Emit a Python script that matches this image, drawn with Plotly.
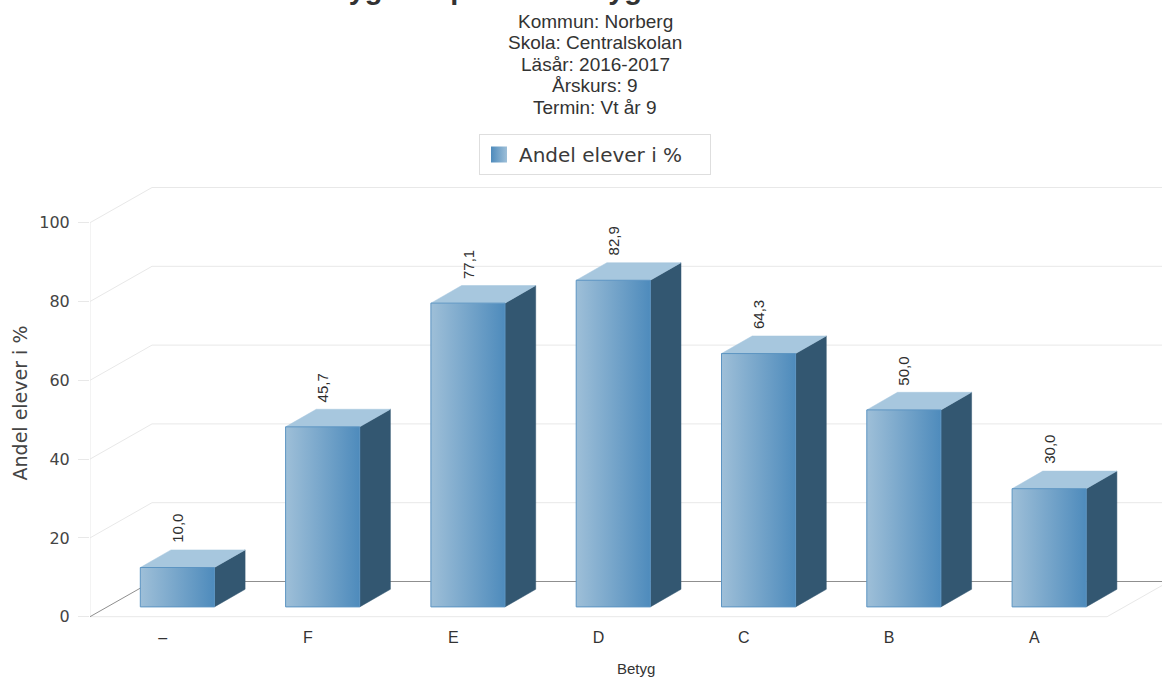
import plotly.graph_objects as go

# ---------------- data ----------------
categories = ["–", "F", "E", "D", "C", "B", "A"]
values = [10.0, 45.7, 77.1, 82.9, 64.3, 50.0, 30.0]
value_labels = ["10,0", "45,7", "77,1", "82,9", "64,3", "50,0", "30,0"]
y_ticks = [0, 20, 40, 60, 80, 100]
y_ticktext = ["0", "20", "40", "60", "80", "100"]
series_name = "Andel elever i %"
title_text = "Betyg och procent betyg i årskurs 9"
subtitle_lines = ["Kommun: Norberg", "Skola: Centralskolan", "Läsår: 2016-2017",
                  "Årskurs: 9", "Termin: Vt år 9"]
x_title = "Betyg"
y_title = "Andel elever i %"

# ---------------- layout geometry ----------------
W, H = 1162, 677
M_L, M_R, M_T, M_B = 90, 0, 180, 51
PLOT_W = W - M_L - M_R
PLOT_H = H - M_T - M_B
PX_PER_CAT = 145.3
PX_PER_VAL = 3.94
ZERO_PX = 616.7

x_range = [0, PLOT_W / PX_PER_CAT]
y_range = [-((H - M_B) - ZERO_PX) / PX_PER_VAL, (ZERO_PX - M_T) / PX_PER_VAL]

# oblique "3D" offsets in data units
WALL_DX, WALL_DY = 62 / PX_PER_CAT, 35.2 / PX_PER_VAL
BAR_FX, BAR_FY = 14.7 / PX_PER_CAT, 9.8 / PX_PER_VAL
BAR_DX, BAR_DY = 30.7 / PX_PER_CAT, 17.6 / PX_PER_VAL
BAR_W = 0.51
N = len(categories)


def pxx(px):
    return (px - M_L) / PLOT_W


def pxy(py):
    return (H - M_B - py) / PLOT_H


FRONT_LIGHT = "rgb(158,191,216)"
FRONT_DARK = "rgb(78,139,188)"
FRONT_EDGE = "rgb(92,148,194)"
TOP_COL = "rgb(167,199,222)"
SIDE_COL = "rgb(51,87,113)"
GRID_COL = "#e8e8e8"
DARK_LINE = "#8f8f8f"

fig = go.Figure()

# ---------- walls / gridlines ----------
gx, gy = [], []
for v in y_ticks[1:]:
    gx += [0, WALL_DX, N + WALL_DX, None]
    gy += [v, v + WALL_DY, v + WALL_DY, None]
# front floor edge, right floor edge, front vertical axis line
gx += [0, N, N + WALL_DX, None, 0, 0, None]
gy += [0, 0, WALL_DY, None, 0, y_ticks[-1], None]
fig.add_trace(go.Scatter(x=gx, y=gy, mode="lines", line=dict(color=GRID_COL, width=1),
                         hoverinfo="skip", showlegend=False))
# dark back baseline + left floor edge
fig.add_trace(go.Scatter(x=[0, WALL_DX, N + WALL_DX], y=[0, WALL_DY, WALL_DY], mode="lines",
                         line=dict(color=DARK_LINE, width=1), hoverinfo="skip", showlegend=False))

# ---------- bars ----------
sx, sy, tx, ty = [], [], [], []
for i, v in enumerate(values):
    x0 = i + 0.5 - BAR_W / 2 + BAR_FX
    x1 = x0 + BAR_W
    y0 = BAR_FY
    y1 = v + BAR_FY
    sx += [x1, x1 + BAR_DX, x1 + BAR_DX, x1, x1, None]
    sy += [y0, y0 + BAR_DY, y1 + BAR_DY, y1, y0, None]
    tx += [x0, x1, x1 + BAR_DX, x0 + BAR_DX, x0, None]
    ty += [y1, y1, y1 + BAR_DY, y1 + BAR_DY, y1, None]

fig.add_trace(go.Scatter(x=sx, y=sy, mode="lines", fill="toself", fillcolor=SIDE_COL,
                         line=dict(color=SIDE_COL, width=0.5), hoverinfo="skip", showlegend=False))
fig.add_trace(go.Scatter(x=tx, y=ty, mode="lines", fill="toself", fillcolor=TOP_COL,
                         line=dict(color=TOP_COL, width=0.5), hoverinfo="skip", showlegend=False))

for i, v in enumerate(values):
    x0 = i + 0.5 - BAR_W / 2 + BAR_FX
    x1 = x0 + BAR_W
    y0 = BAR_FY
    y1 = v + BAR_FY
    fig.add_trace(go.Scatter(
        x=[x0, x1, x1, x0, x0], y=[y0, y0, y1, y1, y0], mode="lines", fill="toself",
        fillgradient=dict(type="horizontal",
                          colorscale=[[0, FRONT_LIGHT], [1, FRONT_DARK]]),
        line=dict(color=FRONT_EDGE, width=1), name=series_name,
        hovertemplate=categories[i] + ": " + value_labels[i] + "<extra></extra>",
        showlegend=False, legendgroup="s"))

# legend entry
fig.add_trace(go.Scatter(
    x=[None], y=[None], mode="markers", name=series_name, legendgroup="s",
    marker=dict(symbol="square", size=16, color=FRONT_DARK,
                gradient=dict(type="horizontal", color=FRONT_LIGHT),
                line=dict(width=0))))

# ---------- annotations ----------
ann = []
for i, v in enumerate(values):
    ann.append(dict(x=i + 0.5 + BAR_FX, y=v + BAR_FY + BAR_DY + 5 / PX_PER_VAL,
                    xref="x", yref="y", text=value_labels[i], textangle=-90,
                    showarrow=False, xanchor="center", yanchor="bottom",
                    font=dict(family="Liberation Sans, Arial", size=15, color="#2e2e2e")))

# chart title: only its lowest part lies inside the picture, as in the reference
ann.append(dict(x=pxx(300), y=pxy(7), xref="paper", yref="paper", text="<b>" + title_text + "</b>",
                showarrow=False, xanchor="left", yanchor="bottom",
                font=dict(family="Liberation Sans, Arial", size=29, color="#333333")))
sub_y = [21.3, 42.8, 64.3, 85.8, 107.3]
for line, py in zip(subtitle_lines, sub_y):
    ann.append(dict(x=pxx(595), y=pxy(py), xref="paper", yref="paper", text=line,
                    showarrow=False, xanchor="center", yanchor="middle",
                    font=dict(family="Liberation Sans, Arial", size=19, color="#333333")))
ann.append(dict(x=pxx(636), y=pxy(668), xref="paper", yref="paper", text=x_title,
                showarrow=False, xanchor="center", yanchor="middle",
                font=dict(family="Liberation Sans, Arial", size=15, color="#333333")))

fig.update_layout(
    width=W, height=H,
    margin=dict(l=M_L, r=M_R, t=M_T, b=M_B, pad=0),
    paper_bgcolor="white", plot_bgcolor="white",
    showlegend=True,
    legend=dict(orientation="h", x=pxx(595), xanchor="center", y=pxy(134), yanchor="top",
                bordercolor="#dedede", borderwidth=1, bgcolor="white",
                entrywidth=186, entrywidthmode="pixels",
                font=dict(family="DejaVu Sans", size=20, color="#3a3a3a")),
    annotations=ann,
    hovermode="closest",
)
fig.update_xaxes(range=x_range, showgrid=False, zeroline=False, showline=False,
                 tickmode="array", tickvals=[i + 0.5 for i in range(N)], ticktext=categories,
                 ticks="", tickfont=dict(family="Liberation Sans, Arial", size=16, color="#333333"),
                 fixedrange=True)
fig.update_yaxes(range=y_range, showgrid=False, zeroline=False, showline=False,
                 tickmode="array", tickvals=y_ticks, ticktext=y_ticktext,
                 ticks="outside", ticklen=11, tickcolor=GRID_COL, tickwidth=1,
                 ticklabelstandoff=5,
                 tickfont=dict(family="DejaVu Sans", size=16, color="#444444"),
                 title=dict(text=y_title, standoff=6,
                            font=dict(family="DejaVu Sans", size=19, color="#444444")),
                 fixedrange=True)

fig.write_html("out.html", config={"displayModeBar": False},
               post_script="document.body.style.margin='0';document.body.style.overflow='hidden';")
